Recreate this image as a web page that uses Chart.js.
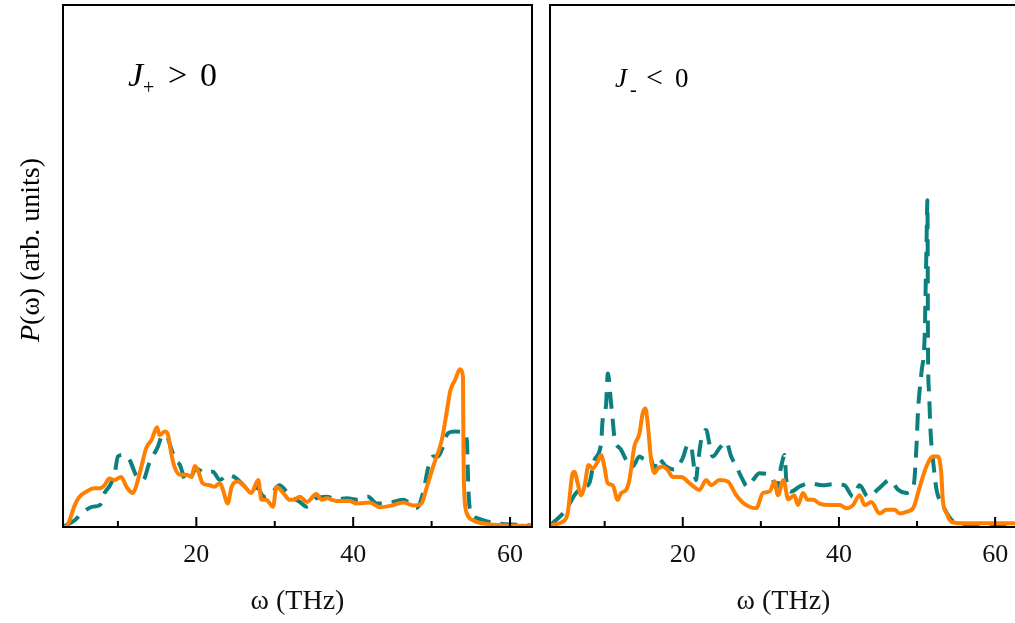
<!DOCTYPE html>
<html lang="en">
<head>
<meta charset="UTF-8" />
<title>P(ω) spectra</title>
<script src="https://cdn.jsdelivr.net/npm/chart.js"></script>
<style>
  body { margin: 0; background: #fff; overflow: hidden; width: 1015px; height: 623px; position: relative; }
  canvas { position: absolute; top: 0; }
  #left { left: 0; }
  #right { left: 540px; }
</style>
</head>
<body>
<canvas id="left" width="540" height="623"></canvas>
<canvas id="right" width="480" height="623"></canvas>
<script>
  const SERIF = '"Liberation Serif", "Times New Roman", serif';
  const ORANGE = '#ff8000';
  const TEAL = '#0b807f';

  const xTicks = [20, 40, 60];
  const minorTicks = [10, 30, 50];

  // J+ > 0 panel
  const plusSolidW = [3.2, 3.6, 4.5, 5.1, 6.0, 7.0, 7.7, 8.3, 8.9, 9.6, 10.4, 11.1, 11.9, 12.3, 13.0, 13.6, 14.3, 15.0, 15.3, 16.0, 16.4, 16.8, 17.2, 17.9, 18.7, 19.4, 19.8, 20.2, 20.8, 21.7, 22.3, 23.0, 23.4, 24.0, 24.5, 25.3, 26.2, 27.0, 27.9, 28.3, 28.9, 29.8, 30.2, 31.1, 31.9, 32.4, 33.2, 34.1, 35.3, 36.0, 36.6, 37.9, 39.6, 40.4, 42.1, 43.4, 45.1, 46.4, 47.7, 48.7, 49.4, 50.2, 51.3, 51.9, 52.4, 53.0, 53.6, 54.0, 54.05, 54.15, 54.5, 55.3, 57.0, 59.6, 62.8];
  const plusSolidP = [0, 0.4, 4.2, 5.8, 6.8, 7.4, 7.4, 8.0, 9.3, 9.0, 9.6, 7.7, 6.5, 7.7, 11.6, 15.1, 16.7, 19.1, 17.6, 18.3, 17.6, 14.1, 11.6, 10.0, 10.0, 9.6, 11.7, 10.9, 8.4, 8.0, 7.7, 8.4, 7.1, 4.5, 7.7, 8.7, 7.7, 6.5, 9.0, 5.2, 5.2, 3.9, 7.7, 6.5, 5.2, 5.2, 5.8, 4.8, 6.3, 5.2, 5.5, 5.0, 5.0, 4.5, 4.7, 3.8, 4.2, 4.7, 4.1, 4.5, 7.7, 11.6, 16.7, 21.8, 26.2, 28.2, 30.2, 28.8, 16.7, 7.1, 2.6, 1.3, 0.6, 0.3, 0.2];
  const plusDashW = [3.2, 4.5, 5.5, 6.8, 7.7, 8.3, 9.0, 9.6, 10.0, 10.7, 11.5, 12.3, 13.2, 14.0, 15.1, 15.7, 16.3, 16.8, 17.3, 17.9, 18.7, 19.3, 20.0, 21.0, 22.1, 23.0, 24.0, 25.1, 26.0, 26.8, 27.8, 28.6, 29.6, 30.6, 31.5, 32.4, 33.2, 34.1, 35.3, 36.6, 37.9, 39.2, 40.5, 41.9, 43.0, 44.5, 46.4, 48.1, 48.9, 49.6, 50.2, 50.8, 51.3, 52.1, 53.0, 54.0, 54.5, 54.6, 54.7, 54.9, 55.8, 57.9, 61.3, 62.8];
  const plusDashP = [0.2, 1.3, 2.8, 3.9, 4.2, 6.5, 8.0, 10.3, 13.5, 13.8, 12.8, 10.0, 9.0, 12.2, 15.4, 17.6, 17.2, 15.0, 13.0, 11.9, 8.7, 9.5, 11.2, 10.4, 10.6, 9.0, 10.0, 9.3, 8.0, 7.1, 7.5, 5.8, 6.5, 8.0, 6.8, 5.5, 4.8, 3.9, 5.5, 5.8, 5.3, 5.5, 5.2, 5.8, 4.5, 4.6, 5.2, 3.7, 6.5, 11.6, 13.5, 13.5, 14.8, 18.0, 18.3, 18.2, 16.5, 11.6, 7.0, 3.3, 1.7, 0.8, 0.4, 0.3];

  // J- < 0 panel
  const minusSolidW = [3.1, 4.6, 5.26, 5.9, 6.12, 6.54, 6.97, 7.4, 7.95, 8.46, 9.1, 9.54, 9.96, 10.38, 11.03, 11.67, 12.1, 12.74, 13.17, 13.8, 14.45, 14.87, 15.22, 15.51, 15.95, 16.37, 16.79, 17.44, 18.08, 18.72, 19.79, 20.86, 22.14, 23.0, 23.64, 24.71, 25.77, 26.85, 28.13, 29.41, 30.26, 31.12, 31.76, 32.18, 32.9, 33.5, 34.3, 34.74, 35.4, 36.0, 36.7, 37.5, 38.8, 40.1, 40.95, 41.8, 42.65, 43.3, 44.15, 45.2, 46.1, 47.1, 47.8, 48.6, 49.5, 50.35, 51.2, 52.05, 52.7, 53.1, 53.3, 53.8, 54.4, 55.9, 62.8];
  const minusSolidP = [0.4, 1.0, 2.6, 10.3, 10.6, 8.4, 6.1, 7.7, 11.9, 11.2, 12.5, 13.8, 11.6, 8.4, 8.0, 5.2, 6.5, 7.1, 9.0, 15.4, 17.9, 21.8, 22.7, 19.9, 12.8, 10.3, 11.2, 11.6, 10.9, 9.6, 9.6, 8.4, 7.1, 9.0, 8.0, 9.0, 8.7, 6.1, 4.2, 3.6, 6.5, 6.8, 8.7, 6.1, 9.0, 5.3, 6.1, 4.2, 6.5, 5.2, 5.2, 4.5, 4.2, 4.2, 3.6, 4.2, 6.1, 4.2, 4.8, 2.6, 3.3, 3.3, 2.6, 2.9, 3.6, 7.7, 11.6, 13.5, 13.5, 10.3, 5.2, 2.6, 1.0, 0.7, 0.7];
  const minusDashW = [3.1, 5.05, 5.7, 6.33, 7.2, 8.04, 8.68, 9.54, 9.74, 10.18, 10.4, 10.82, 11.03, 11.24, 12.1, 12.9, 13.59, 14.45, 15.1, 15.73, 16.37, 16.79, 17.87, 18.9, 20.0, 20.64, 21.07, 21.3, 21.7, 21.9, 22.36, 23.0, 23.4, 23.85, 24.71, 25.56, 26.2, 26.9, 27.49, 28.3, 29.0, 29.83, 31.1, 31.5, 31.97, 32.6, 33.04, 33.26, 33.9, 35.0, 36.2, 37.9, 39.3, 40.7, 41.8, 42.65, 43.7, 45.2, 46.5, 47.6, 48.6, 49.57, 49.92, 50.13, 50.56, 50.99, 51.08, 51.2, 51.33, 51.41, 51.54, 51.72, 52.14, 52.5, 53.3, 53.8, 54.6, 56.0, 62.8];
  const minusDashP = [0.4, 3.3, 5.0, 6.5, 7.5, 8.4, 12.8, 16.0, 20.5, 23.4, 29.4, 23.7, 20.5, 17.3, 14.8, 12.5, 11.6, 13.5, 13.0, 13.8, 11.2, 13.2, 11.6, 11.0, 13.2, 15.7, 15.7, 13.2, 9.0, 11.6, 16.7, 18.6, 16.0, 13.5, 15.1, 16.3, 13.5, 11.5, 9.6, 7.7, 9.0, 10.3, 10.0, 9.3, 7.4, 11.6, 13.8, 9.0, 6.8, 7.8, 8.4, 8.0, 8.2, 8.0, 5.8, 8.0, 5.8, 7.5, 9.0, 7.1, 6.5, 8.0, 15.3, 22.4, 29.5, 37.2, 44.1, 53.1, 62.6, 32.6, 25.7, 18.6, 11.5, 7.1, 4.2, 2.7, 1.1, 0.4, 0.3];

  const pts = (w, p) => w.map((x, i) => ({ x, y: p[i] }));

  function drawPieces(ctx, pieces, baseY) {
    ctx.fillStyle = '#000';
    ctx.textBaseline = 'alphabetic';
    ctx.textAlign = 'left';
    pieces.forEach(p => {
      ctx.font = (p.italic ? 'italic ' : '') + p.size + 'px ' + SERIF;
      ctx.fillText(p.t, p.x, baseY + (p.dy || 0));
    });
  }

  // box frame, inward ticks and panel annotations
  const framePlugin = {
    id: 'frame',
    afterDraw(chart, args, opts) {
      const { ctx, chartArea: a, scales: { x } } = chart;
      ctx.save();
      ctx.strokeStyle = '#000';
      ctx.lineWidth = 2;
      ctx.strokeRect(a.left, a.top, a.right - a.left, a.bottom - a.top);
      [...xTicks, ...minorTicks].forEach(v => {
        const px = x.getPixelForValue(v);
        const len = xTicks.includes(v) ? 10 : 6;
        ctx.beginPath();
        ctx.moveTo(px, a.bottom);
        ctx.lineTo(px, a.bottom - len);
        ctx.stroke();
      });
      if (opts.label) drawPieces(ctx, opts.label, opts.labelY);
      if (opts.yTitle) {
        ctx.translate(32, 250);
        ctx.rotate(-Math.PI / 2);
        ctx.textBaseline = 'middle';
        ctx.fillStyle = '#000';
        ctx.font = 'italic 28px ' + SERIF;
        const wP = ctx.measureText('P').width;
        ctx.font = '28px ' + SERIF;
        const rest = '(ω) (arb. units)';
        const total = wP + ctx.measureText(rest).width;
        ctx.font = 'italic 28px ' + SERIF;
        ctx.fillText('P', -total / 2, 0);
        ctx.font = '28px ' + SERIF;
        ctx.fillText(rest, -total / 2 + wP, 0);
      }
      ctx.restore();
    }
  };

  function makeChart(id, solid, dashed, yWidth, padRight, frameOpts) {
    return new Chart(document.getElementById(id), {
      type: 'line',
      data: {
        datasets: [
          { data: solid, borderColor: ORANGE, borderWidth: 4, pointRadius: 0, cubicInterpolationMode: 'monotone' },
          { data: dashed, borderColor: TEAL, borderWidth: 4, borderDash: [17, 10], pointRadius: 0, cubicInterpolationMode: 'monotone' }
        ]
      },
      options: {
        responsive: false,
        animation: false,
        layout: { padding: { top: 5, right: padRight, left: 0, bottom: 0 } },
        plugins: { legend: { display: false }, tooltip: { enabled: false }, frame: frameOpts },
        scales: {
          x: {
            type: 'linear', min: 3, max: 62.8,
            grid: { display: false }, border: { display: false },
            afterBuildTicks: s => { s.ticks = xTicks.map(v => ({ value: v })); },
            ticks: {
              autoSkip: false, maxRotation: 0, padding: 5, color: '#111',
              font: { family: SERIF, size: 26 }
            },
            title: { display: true, text: 'ω (THz)', color: '#111', font: { family: SERIF, size: 28 }, padding: { top: 0, bottom: 5 } },
            afterFit: s => { s.height = 96; s.paddingLeft = 0; s.paddingRight = 0; }
          },
          y: {
            min: 0, max: 100,
            grid: { display: false }, border: { display: false },
            ticks: { display: false },
            afterFit: s => { s.width = yWidth; }
          }
        }
      },
      plugins: [framePlugin]
    });
  }

  makeChart('left', pts(plusSolidW, plusSolidP), pts(plusDashW, plusDashP), 63, 8, {
    yTitle: true,
    labelY: 86,
    label: [
      { t: 'J', x: 128, size: 34, italic: true },
      { t: '+', x: 143, size: 20, dy: 8 },
      { t: '>', x: 168, size: 34 },
      { t: '0', x: 200, size: 34 }
    ]
  });

  makeChart('right', pts(minusSolidW, minusSolidP), pts(minusDashW, minusDashP), 10, 3, {
    labelY: 87,
    label: [
      { t: 'J', x: 75, size: 27, italic: true },
      { t: '-', x: 90, size: 20, dy: 9 },
      { t: '<', x: 106, size: 30 },
      { t: '0', x: 135, size: 27 }
    ]
  });
</script>
</body>
</html>
